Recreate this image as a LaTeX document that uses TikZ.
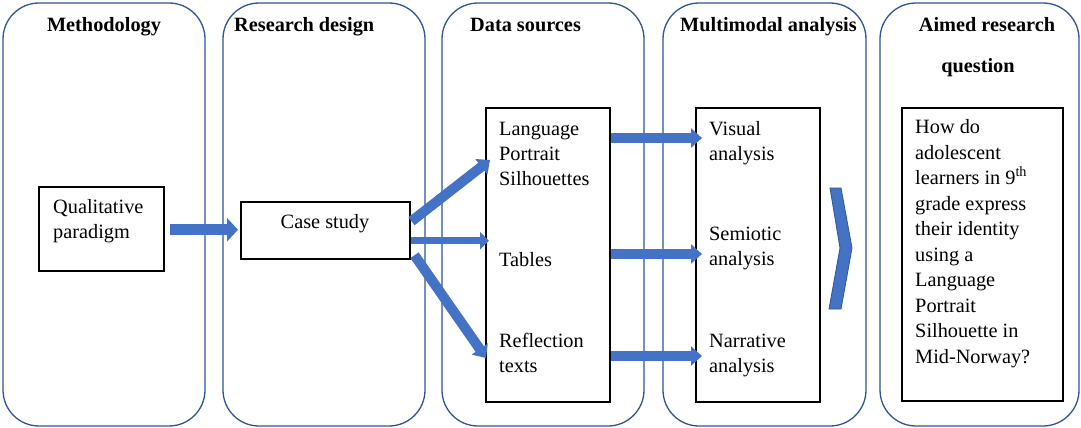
\documentclass[tikz,border=0pt]{standalone}
\usepackage{fontspec}
\setmainfont{Liberation Serif}
\usetikzlibrary{arrows.meta,calc}
\definecolor{colblue}{HTML}{4472C4}
\definecolor{coledge}{HTML}{2F5597}
\begin{document}
\begin{tikzpicture}[x=1pt,y=-1pt,
  col/.style={draw=coledge, line width=1.3pt, rounded corners=36pt},
  hdr/.style={font=\fontsize{20.3}{25}\selectfont\bfseries, inner sep=0pt},
  txt/.style={font=\fontsize{20.3}{25}\selectfont, inner sep=0pt, anchor=base west, align=left},
  box/.style={draw=black, line width=1.5pt, anchor=north west, inner sep=0pt},
  blk/.style={draw=colblue, line cap=butt},
  bigblk/.style={blk, line width=11pt, -{Triangle[width=23pt,length=11pt]}},
  midblk/.style={blk, line width=10pt, -{Triangle[width=19pt,length=11pt]}},
  thinblk/.style={blk, line width=7pt, -{Triangle[width=17pt,length=9pt]}}]
\fill[white] (0,0) rectangle (1081,428);
\useasboundingbox (0,0) rectangle (1081,428);
% columns
\draw[col] (3,3) rectangle (205,426);
\draw[col] (223,3) rectangle (425,426);
\draw[col] (442,3) rectangle (644,426);
\draw[col] (663,3) rectangle (866,426);
\draw[col] (880,3) rectangle (1079,426);
% headers
\node[hdr, anchor=base] (h1) at (104,32) {Methodology};
\node[hdr, anchor=base west] (h2) at (234,32) {Research design};
\node[hdr, anchor=base west] (h3) at (470,32) {Data sources};
\node[hdr, anchor=base west] (h4) at (680,32) {Multimodal analysis};
\node[hdr, anchor=base] (h5a) at (987,32) {Aimed research};
\node[hdr, anchor=base] (h5b) at (978,72) {question};
% boxes
\node[box, minimum width=125pt, minimum height=84pt] (qual) at (38,186) {};
\node[box, minimum width=169pt, minimum height=57pt] (case) at (240,201) {};
\node[box, minimum width=124pt, minimum height=294pt] (data) at (485,107) {};
\node[box, minimum width=124pt, minimum height=294pt] (mm) at (695,107) {};
\node[box, minimum width=161pt, minimum height=293pt] (aim) at (901,107) {};
% texts (base anchor = baseline of the last line)
\node[txt] (tqual) at (53,238) {Qualitative\\paradigm};
\node[txt, anchor=base] (tcase) at (325,228) {Case study};
\node[txt] (tlps) at (499,185) {Language\\Portrait\\Silhouettes};
\node[txt] (ttab) at (499,266) {Tables};
\node[txt] (tref) at (499,372) {Reflection\\texts};
\node[txt] (tvis) at (709,160) {Visual\\analysis};
\node[txt] (tsem) at (709,265) {Semiotic\\analysis};
\node[txt] (tnar) at (709,372) {Narrative\\analysis};
\node[txt, font=\fontsize{20.3}{25.5}\selectfont] (taim) at (915,363) {How do\\adolescent\\learners in 9\textsuperscript{th}\\grade express\\their identity\\using a\\Language\\Portrait\\Silhouette in\\Mid-Norway?};
% arrows
\draw[bigblk] ($(qual.east)+(5,1)$) -- ($(case.west |- qual.east)+(-2,1)$);
\draw[midblk] ($(case.east)+(1,-9)$) -- ($(data.north west)+(5,53)$);
\draw[thinblk] ($(case.east)+(0,10.5)$) -- ($(data.west)+(4,-14)$);
\draw[midblk] ($(case.east)+(4,25)$) -- ($(data.north west)+(1,251)$);
\draw[midblk] ($(data.north east)+(0,31)$) -- ($(mm.north west)+(7,31)$);
\draw[midblk] ($(data.north east)+(0,147)$) -- ($(mm.north west)+(7,147)$);
\draw[midblk] ($(data.north east)+(0,249)$) -- ($(mm.north west)+(7,249)$);
% chevron
\filldraw[fill=colblue, draw=coledge, line width=0.8pt] (830,188) -- (841,188) -- (852,248) -- (841,309) -- (829,309) -- (840,248) -- cycle;
\end{tikzpicture}
\end{document}
